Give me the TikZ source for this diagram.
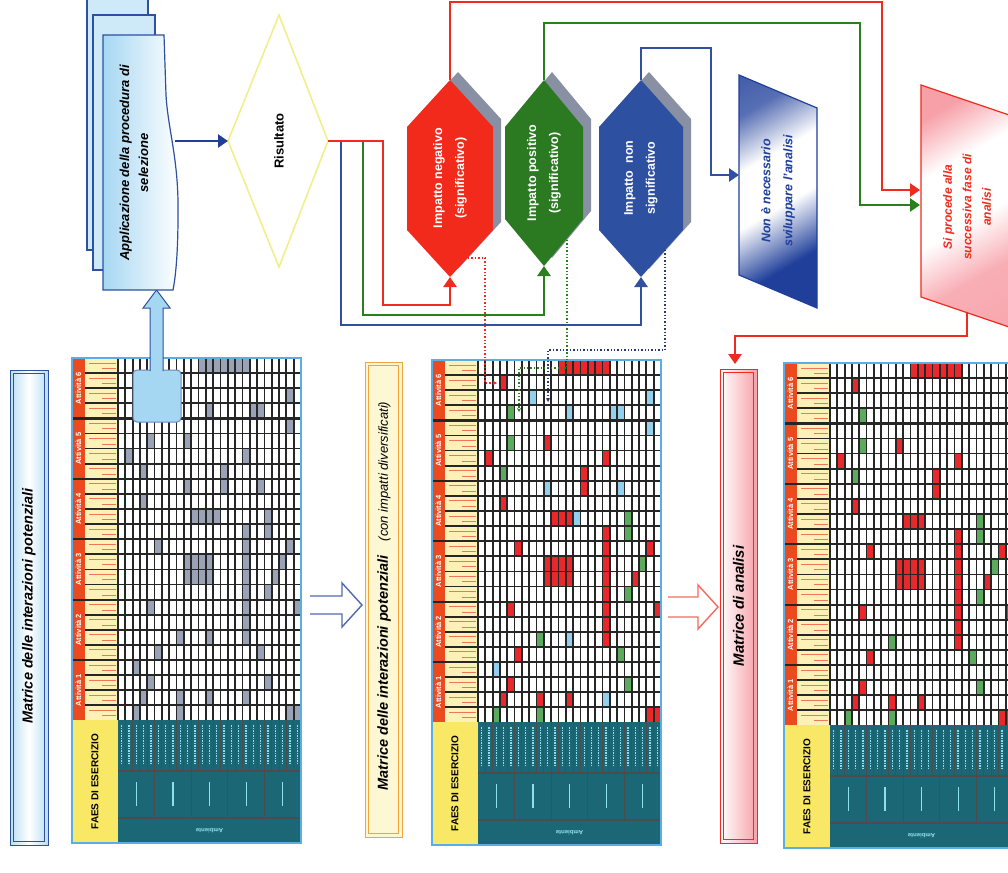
\documentclass[tikz,border=0pt]{standalone}
\usepackage{fontspec}
\setmainfont{Liberation Sans}
\usetikzlibrary{arrows.meta,calc}
\definecolor{cLineR}{HTML}{F02A1E}
\definecolor{cLineG}{HTML}{2A7F1E}
\definecolor{cLineB}{HTML}{31509F}
\definecolor{cHexR}{HTML}{F22A1C}
\definecolor{cHexG}{HTML}{2B7A22}
\definecolor{cHexB}{HTML}{2E50A0}
\definecolor{cNavy}{HTML}{1F3F9A}
\definecolor{cShadow}{HTML}{8A90A3}
\definecolor{cDiamond}{HTML}{F2EE86}
\definecolor{cTeal}{HTML}{1B6776}
\definecolor{cCyan}{HTML}{8FE0EE}
\definecolor{cOrange}{HTML}{EA4A1E}
\definecolor{cCream}{HTML}{FDF1B8}
\definecolor{cYellow}{HTML}{F8E866}
\definecolor{cGrey}{HTML}{9AA2B6}
\definecolor{cCellR}{HTML}{E8282A}
\definecolor{cCellG}{HTML}{5CAA5E}
\definecolor{cCellB}{HTML}{92D0EE}
\definecolor{cBorder}{HTML}{5AAEE6}
\definecolor{cLightBlue}{HTML}{A6D7F2}
\definecolor{cPink}{HTML}{F7A0A8}
\definecolor{cOrangeBox}{HTML}{F2A43A}
\definecolor{cDotNavy}{HTML}{2A3A70}

\pgfdeclareverticalshading{navyfade}{100bp}{color(0bp)=(cNavy); color(30bp)=(cNavy); color(46bp)=(white); color(60bp)=(white); color(74bp)=(cNavy!75); color(100bp)=(cNavy)}
\pgfdeclareverticalshading{pinkfade}{100bp}{color(0bp)=(cPink); color(32bp)=(cPink!85); color(46bp)=(white); color(62bp)=(white); color(76bp)=(cPink); color(100bp)=(cPink)}

\tikzset{
 gl/.style={line width=1.75pt, draw=black!85},
 conn/.style={line width=2.6pt},
 tipA/.style={-{Triangle[length=10pt,width=13pt]}},
 rlab/.style={rotate=90, align=center, inner sep=0pt},
 title/.style={rlab, font=\fontsize{14.5}{16}\selectfont\bfseries\itshape},
 hexlab/.style={rlab, text=white, font=\fontsize{12.5}{22}\selectfont\bfseries},
 doclab/.style={rlab, font=\fontsize{13}{19}\selectfont\bfseries\itshape},
 attlab/.style={rlab, text=white, font=\fontsize{7.5}{8}\selectfont\bfseries},
 faes/.style={rlab, font=\fontsize{10}{11}\selectfont\bfseries},
 amb/.style={rotate=180, inner sep=0pt, text=cCyan, font=\fontsize{6}{6}\selectfont\bfseries},
 dotl/.style={line width=1.4pt, dotted, -{Stealth[length=4pt,width=4pt]}},
}

\def\redcells{11/0,12/0,13/0,14/0,15/0,16/0,17/0,3/1,9/5,1/6,17/6,14/7,14/8,3/9,10/10,11/10,12/10,17/11,17/12,17/13,17/14,17/15,17/16,17/17,17/18,5/12,23/12,9/13,10/13,11/13,12/13,9/14,10/14,11/14,12/14,21/14,4/16,24/16,5/19,4/21,3/22,8/22,12/22,23/23,24/23}
\def\greencells{4/3,4/5,3/7,20/10,20/11,22/13,20/15,8/18,19/19,20/21,2/23,8/23}
\def\bluecells{7/2,12/3,18/3,19/3,23/2,23/4,9/8,19/8,13/10,12/18,2/20,17/22}

\newcommand\cellfill[2]{\foreach \cc/\rr in #1 {\fill[#2] ({46+\cc*7.32},{\rr*15.1}) rectangle ++(7.32,15.1);}}

\newcommand\drawmat[4]{%
\begin{scope}[shift={(#1,#2)}]
\fill[white] (0,0) rectangle (229,485);
\fill[cOrange] (0,0) rectangle (13,362.4);
\fill[cCream] (13,0) rectangle (46,362.4);
\ifcase#3\relax
 \cellfill{\redcells}{cGrey}\cellfill{\greencells}{cGrey}\cellfill{\bluecells}{cGrey}%
\or
 \cellfill{\redcells}{cCellR}\cellfill{\greencells}{cCellG}\cellfill{\bluecells}{cCellB}%
\else
 \cellfill{\redcells}{cCellR}\cellfill{\greencells}{cCellG}%
\fi
\foreach \j in {0,...,23}{
  \draw[cOrange!75, line width=1] (17,{\j*15.1+5}) -- (44,{\j*15.1+5});
  \draw[cOrange!75, line width=1] (30,{\j*15.1+10.5}) -- (44,{\j*15.1+10.5});
}
\foreach \i in {0,...,25} \draw[gl] ({46+\i*7.32},0) -- ({46+\i*7.32},362.4);
\foreach \j in {0,...,24} \draw[gl] (13,{\j*15.1}) -- (229,{\j*15.1});
\foreach \g in {1,...,5} \draw[gl, line width=2.2pt] (0,{\g*60.4}) -- (229,{\g*60.4});
\foreach \g/\n in {0/6,1/5,2/4,3/3,4/2,5/1} \node[attlab] (#4att\n) at (6.5,{\g*60.4+30.2}) {Attività \n};
\fill[cYellow] (0,362.4) rectangle (46,485);
\fill[cTeal] (46,362.4) rectangle (229,485);
\node[faes] (#4faes) at (23,423.7) {FAES DI ESERCIZIO};
\foreach \i in {0,...,24} \draw[cCyan, line width=1.3, dash pattern=on 1.5pt off 1pt] ({46+\i*7.32+3.66},367) -- ++(0,40);
\foreach \i in {1,...,24} \draw[black!70, line width=1] ({46+\i*7.32},362.4) -- ++(0,50.6);
\draw[black!70, line width=1.2] (46,413) -- (229,413) (46,460) -- (229,460);
\foreach \k in {1,...,4} \draw[black!70, line width=1.2] ({46+\k*36.6},413) -- ({46+\k*36.6},460);
\foreach \k in {0,...,4} \draw[cCyan, line width=1.2] ({46+\k*36.6+18.3},424) -- ++(0,24);
\node[amb] (#4amb) at (137.5,472.5) {Ambiente};
\draw[cBorder, line width=1.5] (0,0) rectangle (229,485);
\end{scope}}

\newcommand\hexfill[5]{\fill[#1] ({#2},{#4}) -- ({#2+#3},{#4+47}) -- ({#2+#3},{#5-47}) -- ({#2},{#5}) -- ({#2-#3},{#5-47}) -- ({#2-#3},{#4+47}) -- cycle;}

\begin{document}
\begin{tikzpicture}[x=1pt,y=-1pt]
\clip (0,0) rectangle (1008,872);
\fill[white] (0,0) rectangle (1008,872);

% ---------- title boxes ----------
\shade[left color=cLightBlue!80, right color=cLightBlue!80, middle color=white] (10,370) rectangle (48,845);
\draw[cHexB, line width=1] (10,370) rectangle (48,845);
\draw[cHexB, line width=1.6] (13.5,373.5) rectangle (44.5,841.5);
\node[title] (t1) at (29,606) {Matrice delle interazioni potenziali};

\fill[cCream!60] (365,362) rectangle (402,837);
\draw[cOrangeBox, line width=1] (365,362) rectangle (402,837);
\draw[cOrangeBox, line width=1.6] (368.5,365.5) rectangle (398.5,833.5);
\node[title] (t2) at (384,596) {Matrice delle interazioni potenziali\hspace{14pt}{\mdseries\fontsize{13}{15}\selectfont(con impatti diversificati)}};

\shade[left color=white, right color=cPink] (720,369) rectangle (757,843);
\draw[cLineR, line width=1] (720,369) rectangle (757,843);
\draw[cLineR, line width=1.6] (723.5,372.5) rectangle (753.5,839.5);
\node[title, font=\fontsize{15}{17}\selectfont\bfseries\itshape] (t3) at (738.5,606) {Matrice di analisi};

% ---------- matrices ----------
\drawmat{72}{358}{0}{mA}
\drawmat{432}{360}{1}{mB}
\drawmat{784}{363}{2}{mC}

% selection highlight in matrix 1 and arrow to the procedure
\node[draw=cHexB!70, fill=cLightBlue, rounded corners=4, line width=1, minimum width=48, minimum height=52, inner sep=0] (sel) at (157,396) {};
\filldraw[fill=cLightBlue, draw=cHexB, line width=1] (150,371) -- (150,308) -- (143,308) -- (156.5,290) -- (170,308) -- (163,308) -- (163,371);

% hollow arrows between matrices
\filldraw[fill=white, draw=cLineB!85, line width=1.4] (310,596) -- (342,596) -- (342,583) -- (362,605) -- (342,627) -- (342,614) -- (310,614);
\filldraw[fill=white, draw=cLineR!70, line width=1.4] (668,597) -- (698,597) -- (698,585) -- (718,607) -- (698,629) -- (698,617) -- (668,617);

% ---------- document stack ----------
\filldraw[fill=cLightBlue!55, draw=cHexB, line width=1.2] (87,-5) rectangle (148,250);
\filldraw[fill=cLightBlue!55, draw=cHexB, line width=1.2] (93,15) rectangle (155,270);
\shadedraw[left color=cLightBlue, right color=white, draw=cHexB, line width=1.2] (103,35) -- (164,35) -- (166,95) .. controls (168,130) and (179,160) .. (178,215) .. controls (178,250) and (176,275) .. (173,290) -- (103,290) -- cycle;
\node[doclab] (doc) at (134,163) {Applicazione della procedura di\\selezione};
\coordinate (docE) at (175,141);
\coordinate (docS) at (156.5,290);

% ---------- diamond ----------
\filldraw[fill=white, draw=cDiamond, line width=1.5] (228,141) -- (279,15) -- (328,141) -- (279,267) -- cycle;
\node[rlab, font=\fontsize{13}{15}\selectfont\bfseries] (dia) at (279,141) {Risultato};
\coordinate (diaW) at (228,141);
\coordinate (diaE) at (328,141);
\coordinate (splitG) at (363,141);
\coordinate (splitB) at (341,141);

% ---------- hexagons ----------
\hexfill{cShadow}{458}{43}{72}{269}
\hexfill{cHexR}{450}{43}{80}{277}
\hexfill{cShadow}{552}{39}{72}{258}
\hexfill{cHexG}{544}{39}{80}{266}
\hexfill{cShadow}{649}{42}{72}{269}
\hexfill{cHexB}{641}{42}{80}{277}
\node[hexlab] (hexRt) at (450,178) {Impatto negativo\\(significativo)};
\node[hexlab] (hexGt) at (544,173) {Impatto positivo\\(significativo)};
\node[hexlab] (hexBt) at (641,178) {Impatto\hspace{7pt}non\\significativo};
\coordinate (hexR-n) at (450,80);
\coordinate (hexR-s) at (450,277);
\coordinate (hexG-n) at (544,80);
\coordinate (hexG-s) at (544,266);
\coordinate (hexB-n) at (641,80);
\coordinate (hexB-s) at (641,277);

% ---------- parallelograms ----------
\shade[shading=navyfade, shading angle=30] (739,75) -- (817,108) -- (817,308) -- (739,275) -- cycle;
\draw[cNavy, line width=1.2] (739,75) -- (817,108) -- (817,308) -- (739,275) -- cycle;
\node[rlab, text=cNavy, font=\fontsize{12.5}{22}\selectfont\bfseries\itshape] (non) at (778,191) {Non è necessario\\sviluppare l'analisi};
\coordinate (nonW) at (739,175);

\shade[shading=pinkfade, shading angle=30] (921,85) -- (1012,116) -- (1012,328) -- (921,297) -- cycle;
\draw[cLineR, line width=1.2] (921,85) -- (1012,116) -- (1012,328) -- (921,297) -- cycle;
\node[rlab, text=cLineR, font=\fontsize{12}{19.5}\selectfont\bfseries\itshape] (si) at (967,207) {Si procede alla\\successiva fase di\\analisi};
\coordinate (siR) at (920,190);
\coordinate (siG) at (920,205);
\coordinate (siS) at (967,312);

% ---------- connectors ----------
\coordinate (bendRtop) at (882,2);
\coordinate (bendGtop) at (860,23);
\coordinate (bendBtop) at (711,48);
\coordinate (bendSi) at (735,336);
\coordinate (box3N) at (735,364);

\draw[conn, cNavy, tipA] (docE) -- (diaW);
\draw[conn, cLineB, tipA] (splitB) |- ($(hexB-s)+(0,48)$) -- (hexB-s);
\draw[conn, cLineG, tipA] (splitG) |- ($(hexG-s)+(0,49)$) -- (hexG-s);
\draw[conn, cLineR, tipA] (diaE) -- ++(55,0) |- ($(hexR-s)+(0,28)$) -- (hexR-s);
\draw[conn, cLineR, tipA] (hexR-n) |- (bendRtop) |- (siR);
\draw[conn, cLineG, tipA] (hexG-n) |- (bendGtop) |- (siG);
\draw[conn, cLineB, tipA] (hexB-n) |- (bendBtop) |- (nonW);
\draw[conn, cLineR, tipA] (siS) |- (bendSi) -- (box3N);

% ---------- dotted leaders ----------
\coordinate (dR0) at (468,258);
\coordinate (dR1) at (497,383);
\coordinate (dG0) at (567,240);
\coordinate (dG1) at (519,368);
\coordinate (dG2) at (519,412);
\coordinate (dB0) at (665,250);
\coordinate (dB1) at (548,350);
\coordinate (dB2) at (548,402);
\draw[dotl, cLineR] (dR0) -| ($(dR1)+(-12,0)$) -- (dR1);
\draw[dotl, cLineG] (dG0) |- (dG1) -- (dG2);
\draw[dotl, cDotNavy] (dB0) |- (dB1) -- (dB2);
\end{tikzpicture}
\end{document}
